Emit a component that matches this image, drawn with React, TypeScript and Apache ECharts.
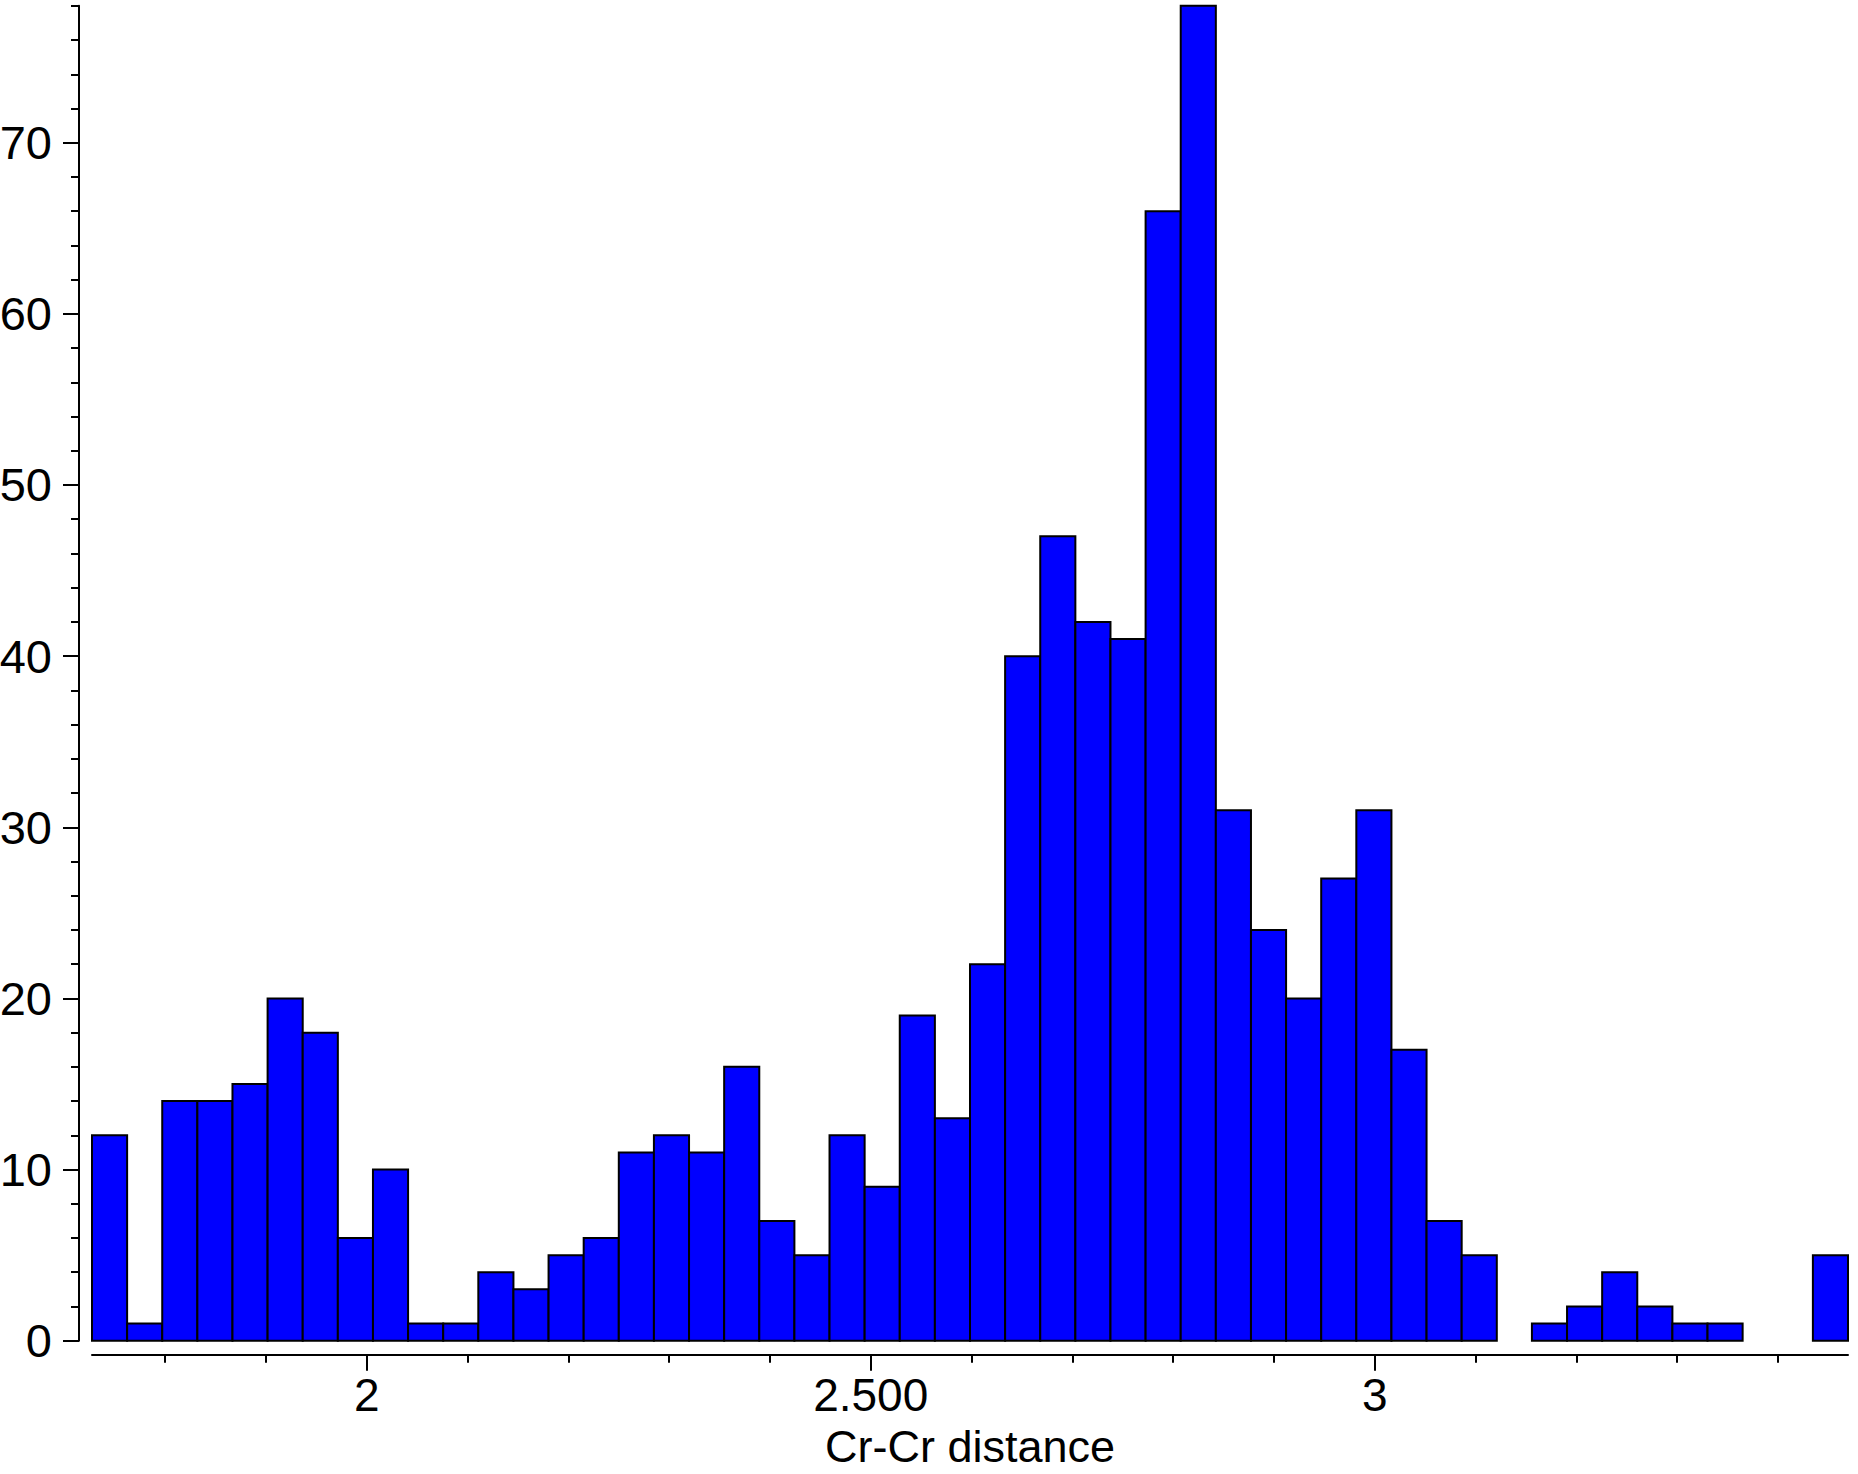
import React, { useEffect, useRef } from "react";
import * as echarts from "echarts";

// Histogram definition (Cr-Cr distance)
const binStart = 1.7275;
const binWidth = 0.03484;
const counts = [
  12, 1, 14, 14, 15, 20, 18, 6, 10, 1,
  1, 4, 3, 5, 6, 11, 12, 11, 16, 7,
  5, 12, 9, 19, 13, 22, 40, 47, 42, 41,
  66, 78, 31, 24, 20, 27, 31, 17, 7, 5,
  0, 1, 2, 4, 2, 1, 1, 0, 0, 5,
];

const xMajorTicks = [2, 2.5, 3];
const xMajorLabels = ["2", "2.500", "3"];
const xMinorTicks = [1.8, 1.9, 2.1, 2.2, 2.3, 2.4, 2.6, 2.7, 2.8, 2.9, 3.1, 3.2, 3.3, 3.4];

const yMajorTicks = [0, 10, 20, 30, 40, 50, 60, 70];
const yMinorTicks = [
  2, 4, 6, 8, 12, 14, 16, 18, 22, 24, 26, 28, 32, 34, 36, 38,
  42, 44, 46, 48, 52, 54, 56, 58, 62, 64, 66, 68, 72, 74, 76, 78,
];

const xName = "Cr-Cr distance";
const yMax = 78;

export default function App() {
  const ref = useRef<HTMLDivElement>(null);

  useEffect(() => {
    if (!ref.current) return;
    const chart = echarts.init(ref.current, null, { renderer: "svg" });
    const xMin = binStart;
    const xMax = binStart + counts.length * binWidth;
    const data = counts
      .map((c, i) => [binStart + i * binWidth, binStart + (i + 1) * binWidth, c])
      .filter((d) => d[2] > 0);

    const base = { fontFamily: "Liberation Sans", color: "#000", lineHeight: 36 };
    const lineStyle = { color: "#000", width: 2 };

    chart.setOption({
      animation: false,
      backgroundColor: "#fff",
      grid: {
        left: 92,
        right: 10,
        top: 5.8,
        bottom: 133.3,
        containLabel: false,
        outerBoundsMode: "none",
      },
      xAxis: [
        {
          type: "value",
          min: xMin,
          max: xMax,
          position: "bottom",
          offset: 14,
          axisLine: { show: true, onZero: false, lineStyle },
          axisTick: { show: true, customValues: xMinorTicks, length: 8, lineStyle },
          axisLabel: { show: false },
          splitLine: { show: false },
          name: xName,
          nameLocation: "middle",
          nameGap: 74,
          nameTextStyle: { ...base, fontSize: 45 },
        },
        {
          type: "value",
          min: xMin,
          max: xMax,
          position: "bottom",
          offset: 14,
          axisLine: { show: false, onZero: false },
          axisTick: { show: true, customValues: xMajorTicks, length: 16, lineStyle },
          axisLabel: {
            show: true,
            customValues: xMajorTicks,
            margin: 22,
            ...base,
            fontSize: 46,
            formatter: (v: number) => {
              const i = xMajorTicks.indexOf(v);
              return i >= 0 ? xMajorLabels[i] : "";
            },
          },
          splitLine: { show: false },
        },
      ],
      yAxis: [
        {
          type: "value",
          min: 0,
          max: yMax,
          position: "left",
          offset: 13,
          axisLine: { show: true, onZero: false, lineStyle },
          axisTick: { show: true, customValues: yMinorTicks, length: 8, lineStyle },
          axisLabel: { show: false },
          splitLine: { show: false },
        },
        {
          type: "value",
          min: 0,
          max: yMax,
          position: "left",
          offset: 13,
          axisLine: { show: false, onZero: false },
          axisTick: { show: true, customValues: yMajorTicks, length: 16, lineStyle },
          axisLabel: {
            show: true,
            customValues: yMajorTicks,
            margin: 27,
            ...base,
            fontSize: 47,
          },
          splitLine: { show: false },
        },
      ],
      series: [
        {
          type: "custom",
          xAxisIndex: 0,
          yAxisIndex: 0,
          data,
          encode: { x: [0, 1], y: 2 },
          renderItem: (params: any, api: any) => {
            const x0 = api.value(0);
            const x1 = api.value(1);
            const c = api.value(2);
            const p0 = api.coord([x0, c]);
            const p1 = api.coord([x1, 0]);
            return {
              type: "rect",
              shape: { x: p0[0], y: p0[1], width: p1[0] - p0[0], height: p1[1] - p0[1] },
              style: { fill: "#0000ff", stroke: "#000000", lineWidth: 2 },
            };
          },
        },
      ],
    });
    return () => chart.dispose();
  }, []);

  return (
    <div
      ref={ref}
      style={{ position: "fixed", left: 0, top: 0, width: 1858, height: 1474 }}
    />
  );
}
